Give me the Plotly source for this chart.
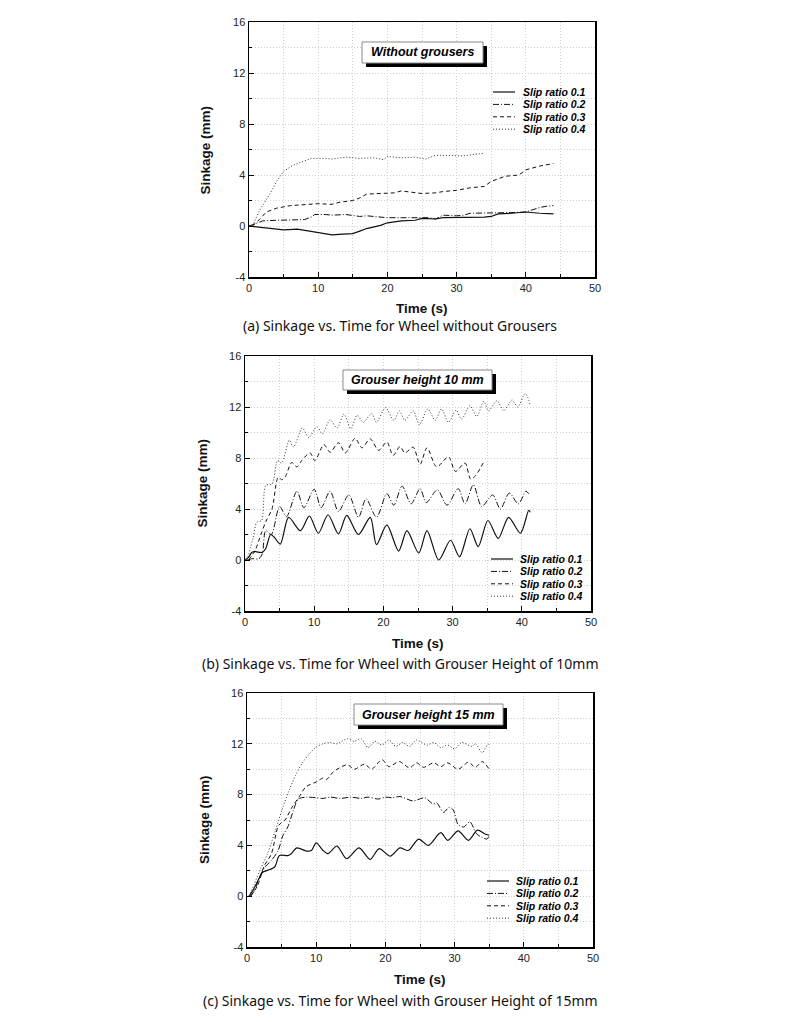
import plotly.graph_objects as go

# ---------------- data ----------------
series_names = ["Slip ratio 0.1", "Slip ratio 0.2", "Slip ratio 0.3", "Slip ratio 0.4"]
panel_titles = ["Without grousers", "Grouser height 10 mm", "Grouser height 15 mm"]
captions = ["(a) Sinkage vs. Time for Wheel without Grousers",
            "(b) Sinkage vs. Time for Wheel with Grouser Height of 10mm",
            "(c) Sinkage vs. Time for Wheel with Grouser Height of 15mm"]
x_ticks = [0, 10, 20, 30, 40, 50]
x_tick_labels = ["0", "10", "20", "30", "40", "50"]
y_ticks = [-4, 0, 4, 8, 12, 16]
y_tick_labels = ["-4", "0", "4", "8", "12", "16"]

# (a) without grousers
a1_t = [0, 2, 4, 5, 7, 9, 10, 12, 13, 15, 16, 17, 19, 20, 22, 24, 25, 27, 28, 30, 32, 34, 35, 36, 38, 40, 42, 44]
a1_y = [0, -0.1, -0.2, -0.3, -0.25, -0.45, -0.55, -0.7, -0.65, -0.6, -0.4, -0.2, 0.05, 0.25, 0.4, 0.45, 0.6, 0.55, 0.65, 0.65, 0.7, 0.7, 0.75, 0.95, 1.0, 1.1, 1.0, 0.95]
a2_t = [0, 1, 2, 4, 6, 7, 8, 9, 9.5, 11, 12, 14, 15, 16, 17, 18, 19, 20, 22, 24, 25, 26, 27, 28, 30, 31, 32, 34, 35, 37, 38, 40, 41, 42, 43, 44]
a2_y = [0, 0.2, 0.4, 0.45, 0.45, 0.5, 0.5, 0.7, 0.9, 0.9, 0.85, 0.9, 0.85, 0.75, 0.8, 0.75, 0.7, 0.65, 0.65, 0.65, 0.6, 0.65, 0.55, 0.85, 0.8, 0.85, 1.0, 1.0, 1.0, 1.05, 1.05, 1.1, 1.3, 1.45, 1.55, 1.6]
a3_t = [0.5, 1.5, 2.5, 4, 6, 8, 10, 12, 13, 15, 16, 17, 19, 21, 22, 24, 25, 27, 28, 30, 32, 34, 35, 36, 37, 39, 40, 42, 44]
a3_y = [0, 0.5, 1.1, 1.4, 1.6, 1.7, 1.75, 1.7, 1.85, 2.0, 2.2, 2.5, 2.55, 2.6, 2.75, 2.6, 2.55, 2.6, 2.7, 2.8, 3.0, 3.1, 3.5, 3.7, 3.9, 4.0, 4.4, 4.7, 4.9]
a4_t = [0.5, 1.5, 3, 4, 5, 6.5, 7.5, 9, 11, 12, 14, 16, 18, 19.5, 20, 22, 24, 25.5, 27, 29, 31, 33, 34]
a4_y = [0, 1.2, 2.5, 3.5, 4.3, 4.8, 5.0, 5.3, 5.3, 5.25, 5.4, 5.3, 5.35, 5.2, 5.45, 5.35, 5.4, 5.25, 5.55, 5.5, 5.5, 5.65, 5.7]

# (b) grouser height 10 mm
b1_t = [0, 0.5, 1, 1.5, 2.5, 3, 3.7, 4.2, 5.1, 6.3, 8, 9.3, 10.6, 12, 13.5, 14.7, 16.4, 18.1, 19.0, 20.5, 22.2, 23.4, 25.1, 26.3, 28, 29.7, 31, 32.5, 33.7, 35.1, 36.6, 38.1, 39.8, 41, 41.2]
b1_y = [0, 0.2, 0.6, 0.65, 0.6, 0.9, 2.0, 1.8, 1.25, 3.35, 2.3, 3.45, 2.1, 3.55, 2.05, 3.5, 2.0, 3.35, 1.2, 2.75, 0.7, 2.3, 0.55, 2.3, 0.0, 1.55, 0.25, 2.45, 1.05, 3.1, 1.7, 3.35, 2.1, 3.9, 3.75]
b2_t = [0.5, 1, 2, 2.5, 3, 3.8, 5, 6, 7.5, 8.5, 10, 11, 12.3, 13.5, 15, 16.4, 17.5, 19, 20.5, 21.5, 22.7, 24, 25.3, 26.2, 27.8, 29.2, 30.8, 31.8, 33, 34.2, 35.8, 36.9, 38.2, 39.5, 40.6, 41]
b2_y = [0, 0.1, 0.1, 0.5, 2.3, 2.0, 4.2, 3.4, 5.4, 4.1, 5.55, 4.1, 5.4, 3.8, 5.1, 3.35, 4.8, 3.35, 5.2, 4.3, 5.8, 4.4, 5.6, 4.5, 5.5, 4.3, 5.6, 4.4, 5.9, 4.2, 5.1, 4.0, 5.25, 4.4, 5.4, 5.2]
b3_t = [0.5, 1.5, 2.3, 3, 3.9, 4.8, 5.3, 5.8, 6.75, 7.5, 8.2, 9.4, 10.1, 11.4, 12.3, 13.5, 14.5, 15.9, 16.9, 18.1, 19.3, 20.5, 21.4, 22.4, 23.1, 24.3, 25.3, 26.3, 27.7, 29.4, 30.4, 31.8, 32.6, 33.3, 34.4]
b3_y = [0, 0.8, 2.0, 3.0, 4.0, 6.5, 6.3, 6.5, 7.65, 7.3, 7.8, 8.4, 7.8, 9.05, 8.45, 9.2, 8.4, 9.55, 8.8, 9.5, 8.6, 9.25, 8.2, 8.9, 8.4, 8.85, 7.5, 8.8, 7.3, 8.1, 6.95, 7.6, 6.35, 6.6, 7.6]
b4_t = [0.3, 1.2, 1.7, 2.4, 3, 3.9, 4.7, 5.3, 6.4, 7.0, 8.3, 9.2, 10.4, 11.2, 12.3, 13.3, 14.3, 15.3, 16.2, 17.1, 18.3, 19, 20.3, 21.5, 22.3, 23.1, 24.3, 25.2, 26.4, 27.5, 28.4, 29.4, 30.5, 31.3, 32.5, 33.5, 34.5, 35.2, 36.4, 37.4, 38.6, 39.4, 40.5, 41.2]
b4_y = [0, 1.8, 2.95, 3.1, 5.85, 5.95, 7.8, 7.6, 9.4, 8.85, 10.35, 9.6, 10.45, 9.9, 11.0, 10.35, 11.45, 10.3, 11.35, 10.8, 11.5, 10.8, 11.95, 10.95, 11.7, 10.95, 11.7, 10.6, 11.85, 10.95, 11.85, 10.8, 11.75, 11.05, 12.1, 11.25, 12.45, 11.7, 12.5, 11.7, 12.55, 12.0, 13.05, 12.2]

# (c) grouser height 15 mm
c1_t = [0.3, 0.9, 1.6, 2.3, 3.3, 4.0, 4.7, 5.9, 6.4, 7.2, 8.6, 9.3, 10, 11, 11.7, 13, 14.4, 16.2, 17.8, 19.1, 20.7, 22.1, 23.3, 24.8, 26.2, 28, 29, 30.5, 32, 33.3, 34.4, 35]
c1_y = [0, 0.5, 1.25, 1.9, 2.1, 2.3, 3.2, 3.2, 3.35, 3.8, 3.55, 3.6, 4.2, 3.6, 3.35, 3.95, 2.95, 3.8, 2.9, 3.75, 3.15, 3.8, 3.6, 4.5, 4.0, 5.0, 4.4, 5.15, 4.4, 5.2, 4.9, 4.8]
c2_t = [0.5, 1.1, 1.8, 2.6, 3.5, 4.5, 5.2, 5.9, 6.7, 7.4, 8.6, 10, 11, 12, 13.5, 15, 16.5, 17.5, 19, 20, 21, 22.1, 24, 25.7, 26.9, 27.4, 28.4, 29.2, 29.8, 30.5, 31.3, 32.2, 33.2, 33.9, 34.7, 35]
c2_y = [0, 0.45, 1.5, 2.3, 2.8, 3.6, 4.8, 5.45, 6.75, 7.65, 7.8, 7.75, 7.7, 7.8, 7.7, 7.8, 7.7, 7.8, 7.65, 7.8, 7.75, 7.85, 7.5, 7.75, 7.25, 7.35, 6.6, 7.0, 6.8, 5.65, 5.45, 5.85, 4.9, 4.65, 4.5, 4.8]
c3_t = [0.5, 1.5, 2.5, 3.5, 4.5, 5, 5.5, 6.5, 7.5, 8.5, 10, 11, 11.5, 12.5, 14.5, 15.5, 17, 18, 19.5, 20.5, 22, 23.5, 24.5, 25.5, 27, 28, 29, 30.5, 32, 33, 34, 35]
c3_y = [0, 0.8, 2.4, 3.3, 5.5, 5.8, 6.0, 7.0, 7.8, 8.6, 9.0, 9.3, 9.2, 9.8, 10.35, 10.0, 10.4, 10.0, 10.75, 10.2, 10.6, 10.1, 10.5, 10.15, 10.5, 10.2, 10.5, 10.0, 10.55, 10.15, 10.6, 10.0]
c4_t = [0.3, 1, 2, 3, 4, 5, 6, 7, 8, 9, 10, 11, 12, 13, 14.5, 15.5, 16.5, 17.5, 18.5, 19.5, 20.5, 21.5, 22.5, 23.5, 24.5, 26, 27, 28, 29, 30, 31, 32.5, 33, 34, 34.7, 35]
c4_y = [0, 0.9, 2.2, 3.4, 5.0, 6.7, 8.2, 9.5, 10.5, 11.2, 11.75, 12.0, 12.1, 12.0, 12.4, 12.2, 12.4, 11.7, 12.2, 11.9, 12.3, 11.8, 12.1, 11.8, 12.3, 11.9, 12.1, 11.7, 11.9, 11.6, 12.1, 11.8, 12.0, 11.3, 11.9, 12.0]

panels_data = [
    [(a1_t, a1_y), (a2_t, a2_y), (a3_t, a3_y), (a4_t, a4_y)],
    [(b1_t, b1_y), (b2_t, b2_y), (b3_t, b3_y), (b4_t, b4_y)],
    [(c1_t, c1_y), (c2_t, c2_y), (c3_t, c3_y), (c4_t, c4_y)],
]

# ---------------- styling / layout (pixels) ----------------
W, H = 800, 1022
line_styles = [dict(dash="solid", width=1.2, color="#111111"),
               dict(dash="6px,2px,1px,2px", width=1, color="#111111"),
               dict(dash="4px,3px", width=1, color="#111111"),
               dict(dash="1px,2px", width=1, color="#333333")]

boxes = [(249, 595, 22, 277), (245, 591, 356, 611), (247, 593, 693, 947)]
time_label_y = [308, 643, 979]
sink_label_x = [205, 202, 204]
caption_y = [325, 663, 1000]
title_box = [(362, 483, 42, 63), (343, 492, 370, 390), (354, 503, 704, 725)]
legend_pos = [(493, 515, 521, 92), (491, 513, 518, 559), (487, 509, 514, 881)]
legend_step = 12.4
line_shapes = ["linear", "spline", "spline"]


def px(x):
    return x / W


def py(y):
    return 1 - y / H


def note(text, x, y, size, family, xanchor="center", angle=0, color="#111"):
    return dict(text=text, x=px(x), y=py(y), xref="paper", yref="paper",
                xanchor=xanchor, yanchor="middle", showarrow=False, textangle=angle,
                font=dict(family=family, size=size, color=color))


fig = go.Figure()
shapes = []
annotations = []
arial = "Liberation Sans, Arial, sans-serif"
tick_font = dict(family=arial, size=11, color="#222222")

for i in range(3):
    sfx = "" if i == 0 else str(i + 1)
    xa, ya = "x" + sfx, "y" + sfx
    l, r, t, b = boxes[i]
    for k, (tt, yy) in enumerate(panels_data[i]):
        fig.add_trace(go.Scatter(
            x=tt, y=yy, mode="lines", name=series_names[k], showlegend=False,
            line=dict(shape=line_shapes[i], smoothing=0.8, **line_styles[k]),
            xaxis=xa, yaxis=ya, hoverinfo="skip"))
    grid = dict(showgrid=True, gridcolor="#cfcfcf", griddash="1px,2px", gridwidth=1)
    fig.layout["xaxis" + sfx] = dict(
        domain=[px(l), px(r)], anchor=ya, range=[0, 50],
        tickmode="array", tickvals=x_ticks, ticktext=x_tick_labels,
        ticks="inside", ticklen=5, tickwidth=1, tickcolor="#000",
        showline=True, linecolor="#000", linewidth=1.5, mirror=True,
        zeroline=False, tickfont=tick_font,
        minor=dict(dtick=5, tick0=0, ticks="inside", ticklen=3, tickcolor="#000", **grid),
        **grid)
    fig.layout["yaxis" + sfx] = dict(
        domain=[py(b), py(t)], anchor=xa, range=[-4, 16],
        tickmode="array", tickvals=y_ticks, ticktext=y_tick_labels,
        ticks="inside", ticklen=5, tickwidth=1, tickcolor="#000",
        showline=True, linecolor="#000", linewidth=1.5, mirror=True,
        zeroline=False, tickfont=tick_font,
        minor=dict(dtick=2, tick0=0, ticks="inside", ticklen=3, tickcolor="#000", **grid),
        **grid)

    annotations.append(note("<b>Time (s)</b>", (l + r) / 2, time_label_y[i], 13.5, arial))
    annotations.append(note("<b>Sinkage (mm)</b>", sink_label_x[i], (t + b) / 2, 13.5, arial, angle=-90))
    annotations.append(note(captions[i], 400, caption_y[i], 14,
                            "Noto Sans, Open Sans, sans-serif"))

    bl, br, bt, bb = title_box[i]
    shapes.append(dict(type="rect", xref="paper", yref="paper",
                       x0=px(bl + 4), x1=px(br + 4), y0=py(bb + 4), y1=py(bt + 4),
                       fillcolor="#000", line=dict(width=0)))
    shapes.append(dict(type="rect", xref="paper", yref="paper",
                       x0=px(bl), x1=px(br), y0=py(bb), y1=py(bt),
                       fillcolor="#fff", line=dict(color="#888", width=1)))
    annotations.append(note("<b><i>" + panel_titles[i] + "</i></b>",
                            (bl + br) / 2, (bt + bb) / 2, 12.5, arial, color="#000"))

    lx0, lx1, tx, ly = legend_pos[i]
    for k in range(4):
        yy = ly + k * legend_step
        st = line_styles[k]
        shapes.append(dict(type="line", xref="paper", yref="paper",
                           x0=px(lx0), x1=px(lx1), y0=py(yy), y1=py(yy),
                           line=dict(color=st["color"], width=st["width"], dash=st["dash"])))
        annotations.append(note("<b><i>" + series_names[k] + "</i></b>",
                                tx, yy, 10.5, arial, xanchor="left", color="#000"))

fig.update_layout(width=W, height=H, autosize=False,
                  margin=dict(l=0, r=0, t=0, b=0, pad=0, autoexpand=False),
                  paper_bgcolor="white", plot_bgcolor="white",
                  shapes=shapes, annotations=annotations, showlegend=False)

fig.write_html("out.html", config={"displayModeBar": False, "staticPlot": True},
               post_script="document.body.style.margin='0';document.body.style.overflow='hidden';")
